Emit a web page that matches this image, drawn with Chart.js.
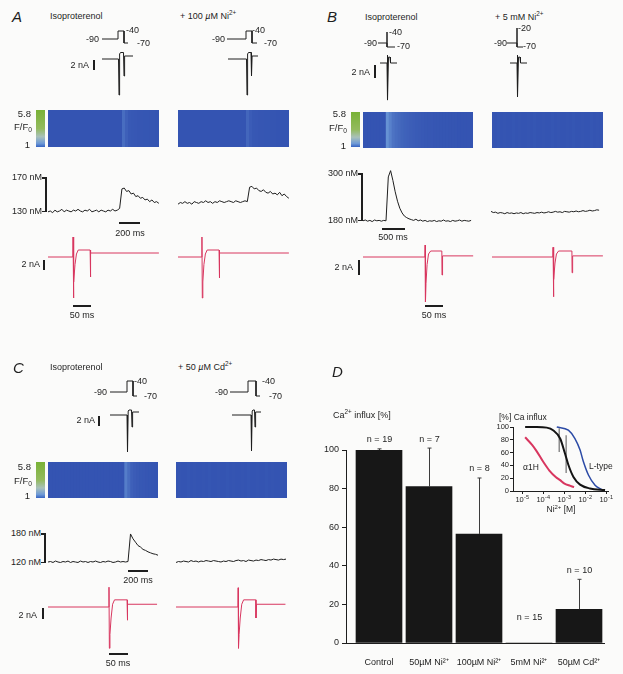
<!DOCTYPE html>
<html>
<head>
<meta charset="utf-8">
<script src="https://cdn.jsdelivr.net/npm/chart.js@4.4.1/dist/chart.umd.min.js"></script>
<style>
body { margin: 0; background: #fbfbfa; }
#fig { position: relative; width: 623px; height: 674px; overflow: hidden; font-family: 'Liberation Sans', Arial, sans-serif; color: #1e1e1e; }
#fig canvas { position: absolute; }
.t { position: absolute; white-space: nowrap; line-height: 1; }
.sb { position: absolute; background: #1e1e1e; }
sup { font-size: 0.7em; line-height: 0; vertical-align: 0.5em; }
sub { font-size: 0.7em; line-height: 0; vertical-align: -0.25em; }
</style>
</head>
<body>
<div id="fig"></div>
<script>
// ---------- panel D: bar chart ----------
const dCats = ['Control', '50µM Ni²⁺', '100µM Ni²⁺', '5mM Ni²⁺', '50µM Cd²⁺'];
const dInflux = [100, 81, 56.5, 0, 17.5];
const dSem = [0.6, 20, 29, 0, 15.5];
const dN = [19, 7, 8, 15, 10];
const pctTicks = [0, 20, 40, 60, 80, 100];

// inset: dose-response to Ni2+
const niTicks = [1e-5, 1e-4, 1e-3, 1e-2, 1e-1];
const a1hConc = [1.4e-5, 3e-5, 5e-5, 1e-4, 2e-4, 4e-4, 6.5e-4, 1e-3, 2e-3, 3e-3];
const a1hPct = [84, 72, 62, 46, 32, 22, 17, 12, 8, 6];
const cellConc = [1.4e-5, 5e-5, 1.5e-4, 3e-4, 6.5e-4, 1.1e-3, 1.6e-3, 2.8e-3, 5.8e-3, 1.7e-2, 9e-2];
const cellPct = [100, 100, 99, 95, 82, 59, 41, 22, 10, 4, 1.5];
const ltypeConc = [4.5e-4, 1.6e-3, 3.3e-3, 5.8e-3, 8.3e-3, 1.45e-2, 3e-2, 6.3e-2];
const ltypePct = [100, 95, 82, 64, 46, 25, 9, 2];
const insetErrConc = [5.9e-4, 1.26e-3];
const insetErrLo = [61, 28];
const insetErrHi = [98, 87];

// ---------- voltage protocols (drawn step levels, holding = 0) ----------
const stepA1_t = [0, 16, 16, 22, 22, 26], stepA1_v = [0, 0, 8, 8, -4, -4];
const stepA2_t = [0, 19, 19, 25, 25, 30], stepA2_v = [0, 0, 8, 8, -4, -4];
const stepB1_t = [0, 9, 9, 9, 17], stepB1_v = [0, 0, 11, -4, -4];
const stepB2_t = [0, 10, 10, 10, 16], stepB2_v = [0, 0, 15, -4, -4];
const stepC1_t = [0, 17, 17, 23, 23, 27], stepC1_v = [0, 0, 11, 11, -4, -4];
const stepC2_t = [0, 18, 18, 26, 26, 30], stepC2_v = [0, 0, 11, 11, -4, -4];

// ---------- whole-cell currents, compressed (nA) ----------
const curA1_t = [0, 16.5, 17, 17.6, 18.5, 21.5, 22, 22.6, 31], curA1_i = [0, 0, -7.2, 1.0, 1.3, 1.3, -3.4, 0.6, 0.6];
const curA2_t = [0, 18.5, 19, 19.6, 20.5, 23, 23.5, 24.1, 30], curA2_i = [0, 0, -7.2, 1.0, 1.3, 1.3, -3.4, 0.6, 0.6];
const curB1_t = [0, 7, 7.3, 7.7, 8.5, 10, 10.5, 17], curB1_i = [0, 0, 1.2, -5.7, 0.9, 0.9, 0, 0];
const curB2_t = [0, 7, 7.3, 7.7, 8.5, 10, 10.5, 17], curB2_i = [0, 0, 1.2, -5.2, 0.9, 0.9, 0, 0];
const curC1_t = [0, 17, 17.5, 18.2, 19, 21.5, 22, 22.6, 29], curC1_i = [0, 0, -7.4, 0.8, 1.0, 1.0, -2.4, 0.6, 0.6];
const curC2_t = [0, 19, 19.5, 20.2, 21, 22.5, 23, 23.6, 29], curC2_i = [0, 0, -7.2, 0.8, 1.0, 1.0, -2.4, 0.6, 0.6];

// ---------- red current traces, ms / nA ----------
const redA1_t = [0, 69, 69.5, 70.5, 72, 75, 79, 84, 117, 117.5, 119, 308];
const redA1_i = [0, 0, 4, -8.2, -5, -1.5, 0.6, 1.4, 1.4, -4, 0.8, 0.8];
const redA2_t = [0, 66, 66.5, 67.5, 69, 72, 76, 81, 114, 114.5, 116, 308];
const redA2_i = [0, 0, 4, -8.2, -5, -1.5, 0.6, 1.4, 1.4, -4.2, 0.8, 0.8];
const redB1_t = [0, 172, 172.5, 173.5, 175, 178, 182, 188, 219, 219.5, 221, 306];
const redB1_i = [0, 0, 1.6, -6, -3.5, -1, 0.4, 0.8, 0.8, -2.4, 0.15, 0.15];
const redB2_t = [0, 169, 169.5, 170.5, 172, 175, 179, 185, 222, 222.5, 224, 308];
const redB2_i = [0, 0, 1.3, -5.3, -3, -0.8, 0.4, 0.8, 0.8, -2.1, 0.15, 0.15];
const redC1_t = [0, 160, 160.5, 161.5, 163, 166, 170, 175, 208, 208.5, 210, 287];
const redC1_i = [0, 0, 3.6, -7.5, -5, -2, 0.5, 1.3, 1.3, -2.4, 0.5, 0.5];
const redC2_t = [0, 163, 163.5, 164.5, 166, 169, 173, 178, 210, 210.5, 212, 288];
const redC2_i = [0, 0, 3.5, -7.5, -5, -2, 0.5, 1.3, 1.3, -2.0, 0.5, 0.5];

// ---------- [Ca2+]i traces (nM), sampled every dt ms ----------
const caDtA = 22, caDtB = 50, caDtC = 25;
const caA1 = [129, 130, 128, 131, 129, 130, 132, 129, 131, 130, 129, 131, 130, 132, 130, 129, 131, 130, 132, 129, 130, 131, 129, 131, 130, 129, 131, 130, 132, 130, 131,
  133, 156, 157, 153, 154, 150, 151, 147, 148, 145, 146, 143, 144, 141, 143, 140, 141, 139];
const caA2 = [138, 140, 139, 141, 139, 140, 138, 141, 140, 139, 141, 140, 142, 140, 141, 139, 141, 140, 142, 141, 140, 141, 142, 141, 140, 142, 141, 140, 141, 142,
  141, 158, 159, 156, 157, 154, 153, 155, 152, 151, 153, 150, 151, 149, 152, 148, 150, 147, 145];
const caB1 = [178, 180, 177, 179, 176, 180, 178, 179, 177, 179,
  178, 290, 306, 281, 252, 228, 210, 198, 190, 186, 183,
  181, 179, 182, 178, 180, 177, 179, 176, 178, 177, 179, 176, 178, 177, 180, 177, 178, 176, 179, 177, 178, 180, 177, 179, 178, 177, 179];
const caB2 = [202, 199, 200, 197, 199, 198, 196, 199, 197, 198, 196, 198, 197, 199, 196, 198, 197, 199, 198, 197,
  199, 198, 200, 198, 199, 201, 199, 200, 202, 200, 201, 199, 202, 201, 200, 202, 201, 203, 201, 202,
  204, 202, 203, 205, 203, 204, 206, 205];
const caC1 = [120, 121, 119, 122, 120, 119, 121, 120, 122, 119, 121, 120, 119, 122, 120, 121, 119, 121, 120, 122, 120, 119, 121, 120, 122, 121, 119, 120, 122, 120, 121, 120,
  121, 178, 168, 161, 154, 151, 146, 144, 141, 139, 137, 136, 134];
const caC2 = [119, 121, 120, 122, 121, 120, 123, 121, 122, 120, 122, 121, 123, 122, 121, 123, 122, 121, 120, 122,
  121, 123, 122, 121, 123, 124, 122, 123, 121, 124, 123, 122, 124, 123, 125, 124, 123, 125, 124, 126,
  125, 124, 126, 125, 126];

// ---------- line-scan F/F0 per time column ----------
const fRange = [1, 5.8];
const lsA1 = [1, 1, 1, 1, 1, 1, 1, 1, 1, 1, 1, 1, 1, 1, 1, 1, 1, 1, 1, 1, 1, 1, 1, 1, 1, 1.3, 1.15, 1.06, 1.05, 1.04, 1.03, 1.03, 1.02, 1.02, 1.01, 1.01, 1];
const lsA2 = [1, 1, 1, 1, 1, 1, 1, 1, 1, 1, 1, 1, 1, 1, 1, 1, 1, 1, 1, 1, 1, 1, 1, 1.22, 1.1, 1.05, 1.04, 1.03, 1.03, 1.02, 1.02, 1.01, 1.01, 1, 1, 1, 1];
const lsB1 = [1, 1, 1, 1, 1, 1, 1, 1, 1.75, 1.55, 1.38, 1.3, 1.25, 1.2, 1.17, 1.15, 1.12, 1.1, 1.08, 1.07, 1.06, 1.05, 1.04, 1.04, 1.03, 1.03, 1.02, 1.02, 1.02, 1.01, 1.01, 1.01, 1, 1, 1, 1, 1];
const lsB2 = [1.01, 1, 1.02, 1, 1.01, 1, 1, 1.02, 1, 1.01, 1, 1, 1.01, 1, 1.02, 1, 1, 1.01, 1, 1, 1.02, 1, 1.01, 1, 1, 1.01, 1, 1.02, 1, 1, 1.01, 1, 1, 1.02, 1, 1.01, 1];
const lsC1 = [1, 1, 1, 1, 1, 1, 1, 1, 1, 1, 1, 1, 1, 1, 1, 1, 1, 1, 1, 1, 1, 1, 1, 1, 1, 1, 1.5, 1.3, 1.15, 1.1, 1.07, 1.05, 1.04, 1.03, 1.02, 1.01, 1];
const lsC2 = [1, 1.01, 1, 1, 1.02, 1, 1.01, 1, 1, 1.01, 1, 1.02, 1, 1, 1.01, 1, 1, 1.02, 1, 1.01, 1, 1, 1.01, 1, 1.02, 1, 1, 1.01, 1, 1, 1.02, 1, 1.01, 1, 1, 1.01, 1];

Chart.defaults.font.family = "'Liberation Sans', Arial, sans-serif";
Chart.defaults.font.size = 9;
Chart.defaults.color = '#1e1e1e';
Chart.defaults.animation = false;

const fig = document.getElementById('fig');
const INK = '#1e1e1e';
const RED = '#d8365f';
const FONT = "'Liberation Sans', Arial, sans-serif";
const noLegend = { legend: { display: false }, tooltip: { enabled: false } };

function lin(p1, v1, p2, v2) {
    return px => v1 + (px - p1) * (v2 - v1) / (p2 - p1);
}

function pairs(xs, ys) {
    return xs.map((x, i) => ({ x: x, y: ys[i] }));
}

function sampled(vals, dt) {
    return vals.map((v, i) => ({ x: i * dt, y: v }));
}

function canvasAt(box, pad) {
    const c = document.createElement('canvas');
    const w = box[2] - box[0] + 2 * pad, h = box[3] - box[1] + 2 * pad;
    c.width = w;
    c.height = h;
    c.style.cssText = `left:${box[0] - pad}px;top:${box[1] - pad}px;width:${w}px;height:${h}px`;
    fig.appendChild(c);
    return c;
}

// a bare trace: axes hidden, scale set so that the box maps through fx / fy
function trace(box, fx, fy, data, color, width) {
    const pad = 4;
    new Chart(canvasAt(box, pad), {
        type: 'line',
        data: { datasets: [{ data: data, borderColor: color || INK, borderWidth: width || 1, pointRadius: 0, tension: 0, clip: false, fill: false }] },
        options: {
            responsive: false, events: [], layout: { padding: pad }, plugins: noLegend,
            scales: {
                x: { type: 'linear', display: false, bounds: 'data', min: fx(box[0]), max: fx(box[2]) },
                y: { type: 'linear', display: false, bounds: 'data', min: fy(box[3]), max: fy(box[1]) }
            }
        }
    });
}

const scanStops = [[1, [52, 84, 178]], [1.8, [105, 150, 214]], [3.2, [165, 195, 175]], [5.8, [125, 178, 55]]];
function fColor(f) {
    for (let k = 1; k < scanStops.length; k++) {
        const [f0, c0] = scanStops[k - 1], [f1, c1] = scanStops[k];
        if (f <= f1) {
            const a = Math.max(0, (f - f0) / (f1 - f0));
            return 'rgb(' + c0.map((c, j) => Math.round(c + a * (c1[j] - c))).join(',') + ')';
        }
    }
    return 'rgb(125,178,55)';
}

function scan(box, vals) {
    new Chart(canvasAt(box, 0), {
        type: 'bar',
        data: {
            labels: vals.map((_, i) => i),
            datasets: [{ data: vals.map(() => [0, 1]), backgroundColor: vals.map(fColor), barPercentage: 1, categoryPercentage: 1, borderWidth: 0, inflateAmount: 1 }]
        },
        options: {
            responsive: false, events: [], layout: { padding: 0 }, plugins: noLegend,
            scales: { x: { display: false }, y: { display: false, min: 0, max: 1 } }
        }
    });
}

function colorbar(box) {
    new Chart(canvasAt(box, 0), {
        type: 'bar',
        data: {
            labels: ['F/F0'],
            datasets: [{
                data: [[fRange[0], fRange[1]]], barPercentage: 1, categoryPercentage: 1, borderWidth: 0,
                backgroundColor: c => {
                    const a = c.chart.chartArea;
                    if (!a) return '#7ab33a';
                    const g = c.chart.ctx.createLinearGradient(0, a.bottom, 0, a.top);
                    g.addColorStop(0, '#3563c2');
                    g.addColorStop(0.1, '#6f9ad6');
                    g.addColorStop(0.28, '#a9c1ba');
                    g.addColorStop(0.5, '#93ba5e');
                    g.addColorStop(1, '#79b236');
                    return g;
                }
            }]
        },
        options: {
            responsive: false, events: [], layout: { padding: 0 }, plugins: noLegend,
            scales: { x: { display: false }, y: { display: false, min: fRange[0], max: fRange[1] } }
        }
    });
}

function txt(x, y, html, align, size, extra) {
    const d = document.createElement('div');
    d.className = 't';
    d.innerHTML = html;
    const tx = align === 'r' ? '-100%' : align === 'c' ? '-50%' : '0';
    d.style.cssText = `left:${x}px;top:${y}px;font-size:${size || 9}px;transform:translate(${tx},-50%);${extra || ''}`;
    fig.appendChild(d);
}
function rect(x, y, w, h) {
    const d = document.createElement('div');
    d.className = 'sb';
    d.style.cssText = `left:${x}px;top:${y}px;width:${w}px;height:${h}px`;
    fig.appendChild(d);
}
const vbar = (x, y1, y2) => rect(x - 1, y1, 2, y2 - y1);
const hbar = (x1, x2, y) => rect(x1, y - 1, x2 - x1, 2);
function bracket(x, y1, y2) {
    rect(x - 1, y1, 2, y2 - y1);
    rect(x - 4, y1, 3, 1.5);
    rect(x - 4, y2 - 1.5, 3, 1.5);
}
const LETTER = 'font-style:italic';

// ================= panel A =================
txt(12, 16, 'A', 'l', 15, LETTER);
txt(50, 16, 'Isoproterenol');
txt(180, 16, '+ 100 <i>µ</i>M Ni<sup>2+</sup>');
trace([100, 27, 130, 47], lin(102, 0, 103, 1), lin(39, 0, 38, 1), pairs(stepA1_t, stepA1_v));
trace([225, 27, 259, 47], lin(227, 0, 228, 1), lin(39, 0, 38, 1), pairs(stepA2_t, stepA2_v));
txt(99, 39, '-90', 'r'); txt(126, 30, '-40'); txt(137, 43, '-70');
txt(225, 39, '-90', 'r'); txt(252, 30, '-40'); txt(264, 43, '-70');
trace([100, 50, 136, 98], lin(102, 0, 103, 1), lin(59, 0, 49, 2), pairs(curA1_t, curA1_i));
trace([226, 50, 262, 98], lin(228, 0, 229, 1), lin(59, 0, 49, 2), pairs(curA2_t, curA2_i));
txt(89, 65, '2 nA', 'r'); vbar(94, 60, 70);
colorbar([36, 110, 45, 147]);
txt(31, 114, '5.8', 'r', 9.5); txt(32, 127, 'F/F<sub>0</sub>', 'r', 9.5); txt(30, 145, '1', 'r', 9.5);
scan([48, 110, 159, 147], lsA1);
scan([178, 110, 289, 147], lsA2);
trace([46, 180, 162, 218], lin(48, 0, 69, 200), lin(211, 130, 177, 170), sampled(caA1, caDtA));
trace([176, 180, 292, 218], lin(178, 0, 199, 200), lin(211, 130, 177, 170), sampled(caA2, caDtA));
txt(42, 177, '170 nM', 'r'); txt(42, 211, '130 nM', 'r'); bracket(46, 177, 212);
hbar(119, 140, 223); txt(130, 233, '200 ms', 'c');
trace([46, 234, 162, 301], lin(48, 0, 66, 50), lin(257, 0, 247, 2), pairs(redA1_t, redA1_i), RED);
trace([176, 234, 292, 301], lin(178, 0, 196, 50), lin(257, 0, 247, 2), pairs(redA2_t, redA2_i), RED);
txt(40, 264, '2 nA', 'r'); vbar(44, 260, 270);
hbar(73, 91, 306); txt(82, 315, '50 ms', 'c');

// ================= panel B =================
txt(327, 16, 'B', 'l', 15, LETTER);
txt(365, 17, 'Isoproterenol');
txt(495, 17, '+ 5 mM Ni<sup>2+</sup>');
trace([376, 28, 398, 50], lin(378, 0, 379, 1), lin(43, 0, 42, 1), pairs(stepB1_t, stepB1_v));
trace([505, 25, 526, 50], lin(507, 0, 508, 1), lin(43, 0, 42, 1), pairs(stepB2_t, stepB2_v));
txt(377, 43, '-90', 'r'); txt(389, 32, '-40'); txt(397, 46, '-70');
txt(507, 43, '-90', 'r'); txt(518, 28, '-20'); txt(523, 46, '-70');
trace([378, 52, 400, 102], lin(380, 0, 381, 1), lin(63, 0, 50, 2), pairs(curB1_t, curB1_i));
trace([508, 52, 530, 100], lin(510, 0, 511, 1), lin(63, 0, 50, 2), pairs(curB2_t, curB2_i));
txt(370, 72, '2 nA', 'r'); vbar(375, 65, 78);
colorbar([351, 112, 360, 147]);
txt(346, 114, '5.8', 'r', 9.5); txt(347, 128, 'F/F<sub>0</sub>', 'r', 9.5); txt(346, 146, '1', 'r', 9.5);
scan([363, 112, 473, 148], lsB1);
scan([492, 112, 603, 148], lsB2);
trace([361, 166, 476, 226], lin(363, 0, 386, 500), lin(220, 180, 173, 300), sampled(caB1, caDtB));
trace([489, 166, 606, 226], lin(491, 0, 514, 500), lin(220, 180, 173, 300), sampled(caB2, caDtB));
txt(358, 173, '300 nM', 'r'); txt(358, 220, '180 nM', 'r'); bracket(362, 173, 221);
hbar(382, 405, 229); txt(393, 237, '500 ms', 'c');
trace([361, 240, 476, 305], lin(363, 0, 381, 50), lin(257, 0, 242, 2), pairs(redB1_t, redB1_i), RED);
trace([490, 240, 606, 305], lin(492, 0, 510, 50), lin(257, 0, 242, 2), pairs(redB2_t, redB2_i), RED);
txt(353, 267, '2 nA', 'r'); vbar(359, 260, 275);
hbar(425, 443, 306); txt(434, 315, '50 ms', 'c');

// ================= panel C =================
txt(13, 367, 'C', 'l', 15, LETTER);
txt(50, 367, 'Isoproterenol');
txt(178, 367, '+ 50 <i>µ</i>M Cd<sup>2+</sup>');
trace([108, 378, 140, 399], lin(110, 0, 111, 1), lin(392, 0, 391, 1), pairs(stepC1_t, stepC1_v));
trace([228, 378, 263, 399], lin(230, 0, 231, 1), lin(392, 0, 391, 1), pairs(stepC2_t, stepC2_v));
txt(107, 392, '-90', 'r'); txt(134, 381, '-40'); txt(144, 396, '-70');
txt(228, 392, '-90', 'r'); txt(262, 381, '-40'); txt(269, 396, '-70');
trace([108, 407, 142, 455], lin(110, 0, 111, 1), lin(415, 0, 405, 2), pairs(curC1_t, curC1_i));
trace([230, 407, 264, 455], lin(232, 0, 233, 1), lin(415, 0, 405, 2), pairs(curC2_t, curC2_i));
txt(95, 420, '2 nA', 'r'); vbar(99, 416, 426);
colorbar([36, 462, 45, 498]);
txt(31, 467, '5.8', 'r', 9.5); txt(32, 481, 'F/F<sub>0</sub>', 'r', 9.5); txt(30, 496, '1', 'r', 9.5);
scan([48, 462, 158, 498], lsC1);
scan([176, 462, 287, 498], lsC2);
trace([46, 528, 160, 566], lin(48, 0, 68, 200), lin(562, 120, 533, 180), sampled(caC1, caDtC));
trace([174, 528, 290, 566], lin(176, 0, 196, 200), lin(562, 120, 533, 180), sampled(caC2, caDtC));
txt(41, 533, '180 nM', 'r'); txt(41, 562, '120 nM', 'r'); bracket(45, 533, 563);
hbar(128, 148, 571); txt(138, 580, '200 ms', 'c');
trace([46, 583, 160, 651], lin(48, 0, 67, 50), lin(607, 0, 596, 2), pairs(redC1_t, redC1_i), RED);
trace([174, 583, 290, 651], lin(176, 0, 195, 50), lin(607, 0, 596, 2), pairs(redC2_t, redC2_i), RED);
txt(37, 615, '2 nA', 'r'); vbar(43, 608, 619);
hbar(109, 128, 654); txt(118, 663, '50 ms', 'c');

// ================= panel D =================
txt(332, 371, 'D', 'l', 15, LETTER);
txt(333, 415, 'Ca<sup>2+</sup> influx [%]');

const dErrPlugin = {
    id: 'dErr',
    afterDatasetsDraw(chart) {
        const { ctx, scales: { x, y } } = chart;
        ctx.save();
        ctx.strokeStyle = '#3c3c3c';
        ctx.lineWidth = 1;
        ctx.fillStyle = INK;
        ctx.font = '9px ' + FONT;
        ctx.textAlign = 'center';
        ctx.textBaseline = 'middle';
        dInflux.forEach((v, i) => {
            const px = Math.round(x.getPixelForValue(i)) + 0.5;
            const top = y.getPixelForValue(v + dSem[i]);
            if (dSem[i] > 0) {
                ctx.beginPath();
                ctx.moveTo(px, y.getPixelForValue(v));
                ctx.lineTo(px, top);
                ctx.moveTo(px - 2, top);
                ctx.lineTo(px + 2, top);
                ctx.stroke();
            }
            ctx.fillText('n = ' + dN[i], px, v > 0 ? top - 9 : top - 25);
        });
        ctx.restore();
    }
};

new Chart(canvasAt([300, 420, 623, 674], 0), {
    type: 'bar',
    data: {
        datasets: [{ data: dInflux.map((v, i) => ({ x: i, y: v })), backgroundColor: '#171717', borderWidth: 0, barThickness: 46 }]
    },
    options: {
        responsive: false, events: [], plugins: noLegend,
        layout: { padding: { top: 30, right: 19, left: 0, bottom: 0 } },
        scales: {
            x: {
                type: 'linear', bounds: 'data', offset: false, min: -0.66, max: 4.5,
                afterFit: s => { s.height = 31; },
                afterBuildTicks: s => { s.ticks = dCats.map((_, i) => ({ value: i })); },
                ticks: { callback: v => dCats[v], padding: 6, maxRotation: 0, autoSkip: false, font: { size: 9 } },
                grid: { display: false },
                border: { color: INK, width: 1 }
            },
            y: {
                type: 'linear', bounds: 'data', min: 0, max: 100,
                afterFit: s => { s.width = 46; },
                afterBuildTicks: s => { s.ticks = pctTicks.map(v => ({ value: v })); },
                ticks: { padding: 3, font: { size: 9 } },
                grid: { drawOnChartArea: false, tickLength: 4, color: INK },
                border: { color: INK, width: 1 }
            }
        }
    },
    plugins: [dErrPlugin]
});

// inset
txt(499, 417, '[%] Ca influx', 'l', 8.5);
txt(561, 509, 'Ni<sup>2+</sup> [M]', 'c', 8.5);
txt(523, 467, 'α1H', 'l', 8.5);
txt(589, 466, 'L-type', 'l', 8.5);

const insetPlugin = {
    id: 'insetExtras',
    beforeDatasetsDraw(chart) {
        const { ctx, scales: { x, y } } = chart;
        ctx.save();
        ctx.strokeStyle = '#8c8c8c';
        ctx.lineWidth = 1.5;
        insetErrConc.forEach((c, i) => {
            const px = x.getPixelForValue(c);
            ctx.beginPath();
            ctx.moveTo(px, y.getPixelForValue(insetErrLo[i]));
            ctx.lineTo(px, y.getPixelForValue(insetErrHi[i]));
            ctx.stroke();
        });
        ctx.restore();
    },
    afterDraw(chart) {
        // decade labels 10^n with a raised exponent
        const { ctx, chartArea, scales: { x } } = chart;
        ctx.save();
        ctx.fillStyle = INK;
        ctx.textAlign = 'left';
        ctx.textBaseline = 'alphabetic';
        niTicks.forEach(v => {
            const exp = String(Math.round(Math.log10(v)));
            ctx.font = '7.5px ' + FONT;
            const wBase = ctx.measureText('10').width;
            ctx.font = '5.5px ' + FONT;
            const wExp = ctx.measureText(exp).width;
            const left = x.getPixelForValue(v) - (wBase + wExp) / 2;
            const base = chartArea.bottom + 11;
            ctx.font = '7.5px ' + FONT;
            ctx.fillText('10', left, base);
            ctx.font = '5.5px ' + FONT;
            ctx.fillText(exp, left + wBase + 0.3, base - 3.2);
        });
        ctx.restore();
    }
};

const curve = (xs, ys, color, w) => ({
    data: pairs(xs, ys), borderColor: color, borderWidth: w, pointRadius: 0,
    cubicInterpolationMode: 'monotone', clip: false, fill: false
});

new Chart(canvasAt([490, 410, 623, 515], 0), {
    type: 'line',
    data: {
        datasets: [
            curve(a1hConc, a1hPct, RED, 2),
            curve(cellConc, cellPct, '#141414', 2),
            curve(ltypeConc, ltypePct, '#2c4ba6', 1.5)
        ]
    },
    options: {
        responsive: false, events: [], plugins: noLegend,
        layout: { padding: { top: 17, right: 15, left: 0, bottom: 0 } },
        scales: {
            x: {
                type: 'logarithmic', bounds: 'data', min: 3.7e-6, max: 0.124,
                afterFit: s => { s.height = 24; },
                afterBuildTicks: s => { s.ticks = niTicks.map(v => ({ value: v })); },
                ticks: { callback: () => '', padding: 1, maxRotation: 0, autoSkip: false, font: { size: 7 } },
                grid: { drawOnChartArea: false, tickLength: 3, color: INK },
                border: { color: INK, width: 1 }
            },
            y: {
                type: 'linear', bounds: 'data', min: 0, max: 100,
                afterFit: s => { s.width = 23; },
                afterBuildTicks: s => { s.ticks = pctTicks.map(v => ({ value: v })); },
                ticks: { padding: 1, font: { size: 7.5 } },
                grid: { drawOnChartArea: false, tickLength: 3, color: INK },
                border: { color: INK, width: 1 }
            }
        }
    },
    plugins: [insetPlugin]
});
</script>
</body>
</html>
